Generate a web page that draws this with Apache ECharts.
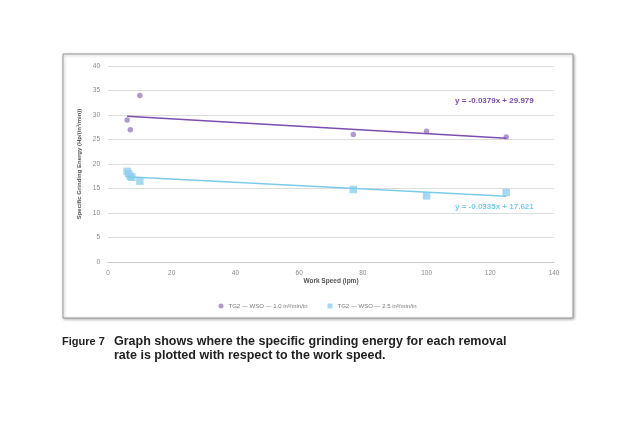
<!DOCTYPE html>
<html><head><meta charset="utf-8">
<script src="https://cdn.jsdelivr.net/npm/echarts@6/dist/echarts.min.js"></script>
<style>html,body{margin:0;background:#fff}#c{width:635px;height:424px}</style>
</head><body><div id="c"></div>
<script>
// 数据
let xTicks = [0, 20, 40, 60, 80, 100, 120, 140];
let purplePts = [[6, 29], [7, 27], [10, 34], [77, 26], [100, 26.7], [125, 25.5]];
let bluePts = [[6, 18.5], [6.5, 18], [7, 17.5], [7.5, 17.3], [10, 16.5], [77, 14.8], [100, 13.5], [125, 14.2]];
let purpleTrend = [[6, 29.75], [125, 25.24]];
let blueTrend = [[6, 17.42], [125, 13.43]];
let purpleEq = 'y = -0.0379x + 29.979';
let blueEq = 'y = -0.0335x + 17.621';

let myChart = echarts.init(document.getElementById('c'));
let colors = ['#9b7fc4', '#8fd0ee', '#7a4fb0', '#7ccbea'];
let tick = {color: '#888', fontSize: 6.5, fontFamily: 'Liberation Sans'};

let option = {
    animation: false,
    graphic: [
        {type: 'rect', shape: {x: 63, y: 54, width: 510, height: 264},
         style: {fill: '#fff', stroke: '#999', lineWidth: 1, shadowBlur: 3, shadowColor: 'rgba(0,0,0,0.3)', shadowOffsetX: 1, shadowOffsetY: 1}, z: -10},
        {type: 'text', left: 62, top: 336, style: {text: 'Figure 7', font: 'bold 11px "Liberation Sans"', fill: '#222'}},
        {type: 'text', left: 114, top: 335, style: {text: 'Graph shows where the specific grinding energy for each removal\nrate is plotted with respect to the work speed.', font: 'bold 12.5px "Liberation Sans"', lineHeight: 14, fill: '#222'}},
        {type: 'text', left: 455, top: 97, style: {text: purpleEq, font: 'bold 8px "Liberation Sans"', fill: colors[2]}},
        {type: 'text', left: 455, top: 203, style: {text: blueEq, font: 'bold 8px "Liberation Sans"', fill: colors[3]}}
    ],
    grid: {left: 108, right: 81, top: 66, bottom: 162},
    xAxis: {
        type: 'value', min: 0, max: 140, interval: 20,
        name: 'Work Speed (ipm)', nameLocation: 'middle', nameGap: 16,
        nameTextStyle: {color: '#555', fontSize: 6.5, fontWeight: 'bold'},
        axisLine: {lineStyle: {color: '#ccc'}}, axisTick: {show: false},
        axisLabel: tick, splitLine: {show: false}
    },
    yAxis: {
        type: 'value', min: 0, max: 40, interval: 5,
        name: 'Specific Grinding Energy (Hp/(in³/min))', nameLocation: 'middle', nameGap: 16,
        nameTextStyle: {color: '#555', fontSize: 6, fontWeight: 'bold'},
        axisLine: {show: false}, axisTick: {show: false},
        axisLabel: tick, splitLine: {lineStyle: {color: '#ddd'}}
    },
    legend: {
        bottom: 110, left: 'center', itemWidth: 5, itemHeight: 5, itemGap: 20,
        textStyle: {color: '#777', fontSize: 6},
        data: [{name: 'TG2 — WSO — 1.0 in³/min/in', icon: 'circle'}, {name: 'TG2 — WSO — 2.5 in³/min/in', icon: 'rect'}]
    },
    series: [
        {name: 'TG2 — WSO — 1.0 in³/min/in', type: 'scatter', symbol: 'circle', symbolSize: 5.5, data: purplePts, itemStyle: {color: colors[0]}},
        {name: 'TG2 — WSO — 2.5 in³/min/in', type: 'scatter', symbol: 'rect', symbolSize: 7.5, data: bluePts, itemStyle: {color: colors[1]}},
        {type: 'line', data: purpleTrend, symbol: 'none', lineStyle: {color: colors[2], width: 1.5}},
        {type: 'line', data: blueTrend, symbol: 'none', lineStyle: {color: colors[3], width: 1.5}}
    ]
};
myChart.setOption(option);
</script></body></html>
